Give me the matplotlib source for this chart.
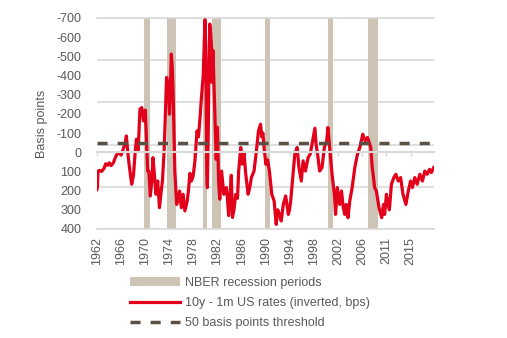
import matplotlib
matplotlib.use("Agg")
import matplotlib.pyplot as plt
import numpy as np

plt.rcParams['font.family'] = ['Liberation Sans', 'DejaVu Sans']
plt.rcParams['font.size'] = 9

TEXT_COLOR = '#595959'
GRID_COLOR = '#D9D9D9'
REC_COLOR = '#CEC4B6'
LINE_COLOR = '#E2001A'
THRESH_COLOR = '#5B5044'

# 10y - 1m US rates spread, inverted (bps)
years = [1962.0, 1962.1, 1962.2, 1962.5, 1962.8, 1963.2, 1963.5, 1963.8, 1964.1, 1964.4,
         1964.8, 1965.1, 1965.4, 1965.8, 1966.1, 1966.4, 1966.8, 1967.0, 1967.3, 1967.6,
         1967.9, 1968.2, 1968.5, 1968.7, 1969.0, 1969.3, 1969.6, 1969.9, 1970.2, 1970.4,
         1970.6, 1970.8, 1971.05, 1971.3, 1971.5, 1971.7, 1972.0, 1972.3, 1972.6, 1972.9,
         1973.1, 1973.4, 1973.6, 1973.8, 1974.1, 1974.3, 1974.45, 1974.6, 1974.75, 1974.9,
         1975.05, 1975.2, 1975.5, 1975.8, 1976.0, 1976.3, 1976.6, 1976.9, 1977.3, 1977.5,
         1977.75, 1978.0, 1978.3, 1978.6, 1978.95, 1979.2, 1979.4, 1979.7, 1980.0, 1980.15,
         1980.3, 1980.4, 1980.5, 1980.6, 1980.7, 1980.85, 1981.0, 1981.1, 1981.25, 1981.4,
         1981.5, 1981.65, 1981.9, 1982.0, 1982.2, 1982.4, 1982.6, 1982.8, 1983.1, 1983.5,
         1983.9, 1984.0, 1984.3, 1984.55, 1984.75, 1984.95, 1985.2, 1985.5, 1985.8, 1986.0,
         1986.35, 1986.6, 1986.9, 1987.2, 1987.6, 1987.9, 1988.15, 1988.6, 1989.0, 1989.35,
         1989.7, 1989.9, 1990.1, 1990.3, 1990.6, 1990.9, 1991.2, 1991.6, 1992.0, 1992.35,
         1992.6, 1992.85, 1993.2, 1993.55, 1993.95, 1994.4, 1994.6, 1994.8, 1995.1, 1995.5,
         1995.9, 1996.2, 1996.6, 1996.9, 1997.3, 1997.75, 1998.1, 1998.5, 1998.9, 1999.1,
         1999.35, 1999.7, 2000.1, 2000.5, 2000.9, 2001.1, 2001.4, 2001.8, 2002.2, 2002.4,
         2002.7, 2003.1, 2003.4, 2003.7, 2003.95, 2004.2, 2004.5, 2004.8, 2005.2, 2005.65,
         2006.1, 2006.5, 2007.0, 2007.4, 2007.8, 2008.1, 2008.35, 2008.6, 2008.75, 2009.0,
         2009.3, 2009.75, 2010.2, 2010.5, 2010.7, 2011.0, 2011.2, 2011.5, 2011.85, 2012.25,
         2012.6, 2013.0, 2013.4, 2013.8, 2014.3, 2014.7, 2015.1, 2015.4, 2015.8, 2016.2,
         2016.65, 2017.1, 2017.5, 2017.9, 2018.3, 2018.6, 2019.0]
spread_inv = [195, 183, 98, 95, 100, 85, 60, 68, 55, 70,
              55, 30, 10, 5, 15, -10, -50, -85, 20, 98,
              167, 120, -7, -68, -10, -225, -233, -163, -220, -59,
              98, 100, 228, 150, 28, 100, 219, 150, 289, 200,
              150, -16, -200, -390, -346, -198, -330, -512, -450, -320,
              -100, 98, 272, 240, 202, 289, 219, 306, 253, 200,
              110, 150, 124, 45, -111, -80, -155, -285, -400, -547,
              -690, -560, -300, 100, 184, -100, -500, -668, -625, -547,
              -364, -530, -280, -198, 37, -130, 150, 245, 98, 219,
              184, 200, 330, 230, 120, 340, 300, 220, 240, 98,
              -25, 62, 0, 115, 219, 180, 132, 98, -7, -111,
              -146, -80, -100, -25, 63, 40, 98, 219, 254, 376,
              300, 320, 358, 272, 228, 324, 300, 254, 150, 10,
              -25, 80, 150, 45, 98, 28, 10, -59, -125, -40,
              10, 98, 80, -25, -59, -129, -25, 115, 219, 324,
              184, 272, 202, 289, 324, 272, 341, 254, 184, 80,
              10, -25, -94, -59, -77, -50, -25, 80, 115, 184,
              202, 289, 341, 272, 324, 219, 260, 300, 167, 132,
              115, 150, 132, 219, 272, 202, 150, 184, 132, 167,
              115, 150, 98, 115, 89, 106, 80]

# NBER recessions (decimal years)
rec_start = [1969.92, 1973.83, 1980.0, 1981.5, 1990.5, 2001.17, 2007.92]
rec_end = [1971.0, 1975.33, 1980.67, 1983.0, 1991.33, 2002.0, 2009.58]

threshold = -50

tick_labels = ['1962', '1966', '1970', '1974', '1978', '1982', '1986',
               '1990', '1994', '1998', '2002', '2006', '2011', '2015']
tick_step = 49 / 12  # Excel category axis: a label every 49 months
tick_pos = [1962 + i * tick_step for i in range(len(tick_labels))]

fig = plt.figure(figsize=(5.07, 3.38), dpi=100)
ax = fig.add_axes([0.191, 0.3225, 0.665, 0.6245])
ax2 = ax.twinx()
ax.set_zorder(ax2.get_zorder() + 1)
ax.patch.set_visible(False)

# background axis: gridlines + recession bars
ax2.set_ylim(0, 1)
ax2.set_yticks(np.linspace(0, 1, 6))
ax2.set_axisbelow(True)
ax2.grid(axis='y', color=GRID_COLOR, lw=1.2)
ax2.tick_params(axis='y', length=0, labelright=False)
for s in ['left', 'right']:
    ax2.spines[s].set_visible(False)
for s in ['top', 'bottom']:
    ax2.spines[s].set_color(GRID_COLOR)
    ax2.spines[s].set_linewidth(1.2)
rec_handle = None
for s, e in zip(rec_start, rec_end):
    h = ax2.axvspan(s, e, color=REC_COLOR, lw=0)
    if rec_handle is None:
        rec_handle = h
ax2.xaxis.set_visible(True)
ax2.tick_params(axis='x', length=0, labelbottom=True, labelrotation=90,
                pad=6, labelcolor=TEXT_COLOR, labelsize=9)

# main axis
line, = ax.plot(years, spread_inv, color=LINE_COLOR, lw=2.3, solid_joinstyle='round')
thr = ax.axhline(threshold, color=THRESH_COLOR, lw=2.5, dashes=(2.9, 2.9))

ax.set_xlim(1962, 2019.05)
ax.set_xticks(tick_pos, labels=tick_labels)
ax.set_ylim(400, -700)
yt = list(range(-700, 401, 100))
ax.set_yticks(yt, labels=[str(v) for v in yt])
ax.tick_params(axis='y', length=0, pad=11, labelcolor=TEXT_COLOR, labelsize=9)
ax.tick_params(axis='x', direction='out', length=3, color=GRID_COLOR, width=1,
               labelbottom=False)
for s in ['left', 'right', 'top']:
    ax.spines[s].set_visible(False)
ax.spines['bottom'].set_position(('data', 0))
ax.spines['bottom'].set_color(GRID_COLOR)
ax.spines['bottom'].set_linewidth(1.5)
ax.set_ylabel('Basis points', color=TEXT_COLOR, fontsize=9, labelpad=6)

leg = fig.legend([rec_handle, line, thr],
                 ['NBER recession periods', '10y - 1m US rates (inverted, bps)',
                  '50 basis points threshold'],
                 loc='upper left', bbox_to_anchor=(130 / 507, 1 - 277 / 338),
                 frameon=False, handlelength=4, handletextpad=0.4,
                 labelspacing=0.65, borderpad=0, borderaxespad=0, fontsize=9)
for t in leg.get_texts():
    t.set_color(TEXT_COLOR)

fig.savefig('out.png', dpi=100)
